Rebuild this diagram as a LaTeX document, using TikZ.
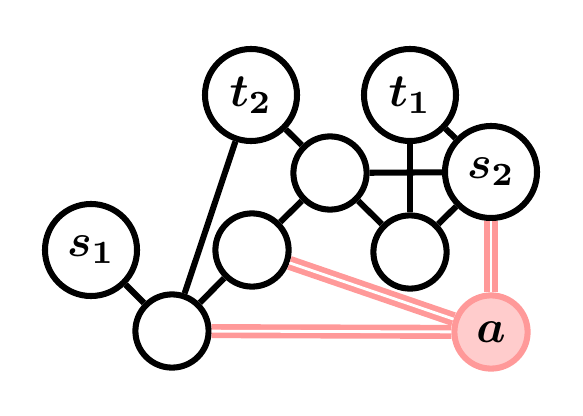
\documentclass[tikz,border=0pt]{standalone}
\usepackage{amsmath,amssymb,bm,graphicx}
\usetikzlibrary{positioning}
\definecolor{Pk}{HTML}{FF9999}
\definecolor{PkFill}{HTML}{FFCCCC}
\newcommand{\vlbl}[1]{\scalebox{3.3}{$\bm{#1}$}}
\tikzset{
  vtx/.style={circle, draw=black, fill=white, line width=4.3pt, inner sep=0pt, minimum size=1.83cm},
  term/.style={vtx, minimum size=2.3cm},
  apex/.style={vtx, draw=Pk, fill=PkFill},
  link/.style={line width=4.3pt, black},
  plink/.style={draw=Pk, line width=4pt, double=white, double distance=2pt},
}
\begin{document}
\begin{tikzpicture}[x=0.025cm, y=0.025cm]
  \useasboundingbox (0,0) rectangle (583,415);
  % vertices
  \node[term] (t2) at (251,320) {\vlbl{t_2}};
  \node[term] (t1) at (410,320) {\vlbl{t_1}};
  \node[term] (s2) at (491,243) {\vlbl{s_2}};
  \node[term] (s1) at (91,165) {\vlbl{s_1}};
  \node[vtx] (m) at (330,242) {};
  \node[vtx] (u) at (252,165) {};
  \node[vtx] (w) at (410,163) {};
  \node[vtx] (b) at (172,84) {};
  \node[apex] (a) at (491,83) {\vlbl{a}};
  % edges
  \draw[link] (t2) -- (m);
  \draw[link] (t2) -- (b);
  \draw[link] (m) -- (s2);
  \draw[link] (t1) -- (w);
  \draw[link] (t1) -- (s2);
  \draw[link] (m) -- (w);
  \draw[link] (w) -- (s2);
  \draw[link] (m) -- (u);
  \draw[link] (u) -- (b);
  \draw[link] (s1) -- (b);
  \draw[plink] (b) -- (a);
  \draw[plink] (u) -- (a);
  \draw[plink] (s2) -- (a);
\end{tikzpicture}
\end{document}
